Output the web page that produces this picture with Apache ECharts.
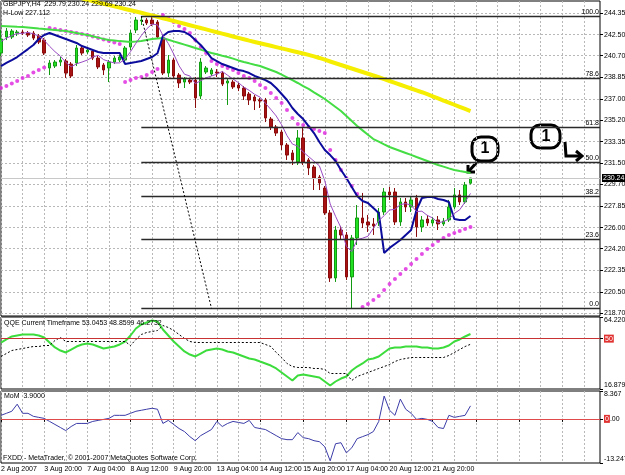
<!DOCTYPE html>
<html>
<head>
<meta charset="utf-8">
<script src="https://cdn.jsdelivr.net/npm/echarts@6/dist/echarts.min.js"></script>
<style>
  html, body { margin: 0; padding: 0; background: #fff; }
  #chart { width: 625px; height: 475px; }
</style>
</head>
<body>
<div id="chart"></div>
<script>
// GBPJPY H4, 2 Aug - 23 Aug 2007
const dayBars = [['2 Aug', 3, 6], ['3 Aug', 0, 6], ['6 Aug', 0, 6], ['7 Aug', 0, 6], ['8 Aug', 0, 6],
  ['9 Aug', 0, 6], ['10 Aug', 0, 6], ['13 Aug', 0, 6], ['14 Aug', 0, 6], ['15 Aug', 0, 6],
  ['16 Aug', 0, 6], ['17 Aug', 0, 6], ['20 Aug', 0, 6], ['21 Aug', 0, 6], ['22 Aug', 0, 6], ['23 Aug', 0, 1]];
const hours = ['00:00', '04:00', '08:00', '12:00', '16:00', '20:00'];
const tickLabels = ['2 Aug 2007', '3 Aug 20:00', '7 Aug 04:00', '8 Aug 12:00', '9 Aug 20:00', '13 Aug 04:00',
  '14 Aug 12:00', '15 Aug 20:00', '17 Aug 04:00', '20 Aug 12:00', '21 Aug 20:00'];
const priceTicks = [218.70, 220.50, 222.35, 224.20, 226.00, 227.85, 229.70, 231.50, 233.35, 235.20,
  237.00, 238.85, 240.70, 242.50, 244.35];
const qqeTicks = [16.879, 50, 64.2206];
const momTicks = [-13.247, 0, 8.367];

const opens = [240.92,242.29,242.29,242.63,242.72,242.63,242.63,242.38,242.03,239.64,
  239.81,240.15,240.24,239.98,240.07,241.35,241.01,241.09,240.49,239.90,
  239.64,240.15,240.32,240.32,241.44,242.89,243.66,243.74,243.74,243.57,
  242.20,239.21,240.32,239.04,238.44,238.61,238.61,237.25,239.30,239.13,
  239.30,239.21,238.36,238.44,238.19,237.93,237.42,237.16,236.91,236.91,
  235.28,234.60,234.17,233.06,232.38,231.61,233.66,231.78,231.18,230.32,
  229.38,227.25,221.69,225.79,225.37,221.78,225.11,226.82,226.48,226.31,
  226.48,227.33,229.04,229.04,226.48,228.19,227.76,228.53,226.05,226.73,
  226.39,226.65,226.31,226.65,227.76,228.79,228.19,229.79];
const closes = [242.12,242.80,242.80,242.72,242.63,242.46,242.20,241.86,240.92,240.07,
  240.15,240.32,239.21,238.96,241.35,240.92,241.18,240.49,239.73,239.47,
  240.15,240.49,240.58,241.35,242.63,243.74,243.74,243.49,243.40,242.29,
  239.21,240.32,238.96,238.36,238.70,238.44,237.08,240.15,239.64,239.47,
  239.21,238.27,238.53,238.02,237.93,237.25,236.91,236.82,236.82,235.37,
  234.60,234.08,233.06,232.20,231.78,233.66,231.61,231.09,230.24,229.81,
  227.25,221.69,225.79,225.37,221.78,225.11,226.82,226.39,226.22,226.14,
  227.33,229.04,228.79,226.48,228.19,227.76,228.36,226.05,226.65,226.39,
  226.65,226.31,226.56,227.76,228.79,228.19,229.64,230.24];
const lows = [240.67,242.03,242.12,242.38,242.46,242.29,242.03,241.69,240.75,239.04,
  239.64,239.81,238.79,238.79,239.81,240.75,240.84,240.32,239.55,239.04,
  238.44,239.98,240.15,240.15,241.18,242.63,243.32,243.32,243.23,242.12,
  239.04,238.87,238.79,237.93,237.93,238.27,236.22,236.99,239.13,238.96,
  238.87,238.10,236.48,237.85,237.67,236.91,236.48,236.05,236.22,235.02,
  234.34,233.83,232.63,231.78,231.35,231.35,231.35,230.49,229.21,229.21,
  227.08,221.35,221.35,224.94,221.52,219.10,224.51,225.96,225.62,225.37,
  226.14,227.08,228.36,226.22,226.14,227.33,227.33,225.20,225.62,226.14,
  226.14,225.79,226.14,226.48,227.59,227.93,228.02,229.69];
const highs = [242.89,243.06,242.97,242.89,242.89,242.80,242.80,242.55,242.20,240.32,
  240.32,240.58,240.41,240.15,241.61,241.52,241.35,241.26,240.67,240.07,
  240.32,240.67,240.75,241.52,242.89,244.00,244.08,243.91,244.00,243.74,
  242.46,240.75,240.49,239.21,238.87,238.79,238.87,240.49,239.81,239.64,
  239.55,239.38,238.79,238.61,238.36,238.10,237.59,237.33,237.08,237.08,
  235.45,234.77,234.34,233.23,232.63,234.34,234.51,231.95,231.35,230.49,
  229.55,227.50,226.14,226.14,225.62,225.37,227.93,228.96,227.08,226.82,
  227.67,229.38,229.47,229.38,228.53,228.53,228.61,228.79,226.99,227.08,
  226.91,226.99,226.82,228.36,229.38,229.21,229.90,230.24];

const maYellow = [247.2,247.1,247.0,246.9,246.8,246.7,246.6,246.5,246.4,246.3,
  246.2,246.1,246.0,245.85,245.72,245.6,245.48,245.36,245.24,245.13,
  245.02,244.91,244.80,244.69,244.58,244.47,244.36,244.25,244.14,244.02,
  243.90,243.78,243.66,243.54,243.42,243.30,243.18,243.06,242.94,242.82,
  242.70,242.58,242.46,242.34,242.22,242.10,241.98,241.87,241.76,241.65,
  241.54,241.43,241.32,241.21,241.10,240.99,240.88,240.76,240.63,240.50,
  240.35,240.20,240.05,239.90,239.75,239.60,239.45,239.30,239.15,239.00,
  238.85,238.69,238.53,238.37,238.21,238.05,237.89,237.73,237.57,237.40,
  237.22,237.04,236.86,236.68,236.50,236.32,236.14,235.96];
const maGreen = [243.23,243.21,243.19,243.16,243.14,243.10,243.06,243.01,242.97,242.93,
  242.89,242.84,242.80,242.72,242.63,242.55,242.46,242.35,242.24,242.13,
  242.03,241.99,241.94,241.90,241.86,241.90,241.95,242.03,242.12,242.16,
  242.20,242.06,241.92,241.78,241.64,241.50,241.35,241.21,241.06,240.92,
  240.81,240.69,240.58,240.44,240.29,240.15,240.04,239.92,239.81,239.64,
  239.47,239.30,239.07,238.84,238.61,238.36,238.10,237.85,237.56,237.28,
  236.99,236.65,236.31,235.97,235.54,235.11,234.68,234.31,233.94,233.57,
  233.34,233.11,232.89,232.72,232.55,232.38,232.21,232.03,231.86,231.69,
  231.52,231.35,231.21,231.06,230.92,230.83,230.75,230.66];
const maBlue = [239.81,240.07,240.32,240.58,240.92,241.26,241.61,242.12,242.46,242.63,
  242.46,242.29,242.12,241.95,241.78,241.52,241.35,241.18,241.01,240.92,
  240.92,240.92,240.92,239.98,240.07,240.15,240.24,240.41,240.58,240.90,
  242.38,242.72,242.80,242.80,242.72,242.46,242.03,241.61,241.09,240.49,
  240.24,239.98,239.81,239.64,239.47,239.38,239.21,238.96,238.79,238.61,
  238.36,237.93,237.42,236.91,236.22,235.71,235.28,234.68,234.08,233.32,
  232.63,232.20,231.69,230.92,230.24,229.47,228.70,228.27,228.10,227.67,
  227.25,223.83,224.26,224.60,224.94,225.37,225.79,227.50,228.53,228.61,
  228.61,228.44,228.36,228.19,226.73,226.65,226.65,226.99];
const maFast = [241.90,242.20,242.40,242.60,242.61,242.68,242.56,242.37,242.01,241.50,
  241.04,240.66,240.13,239.74,240.00,240.15,240.32,240.58,240.73,240.36,
  240.20,240.07,240.08,240.41,241.04,241.76,242.41,242.99,243.40,243.33,
  242.43,241.74,240.84,239.83,239.11,238.96,238.31,238.55,238.80,238.96,
  239.11,239.35,239.02,238.70,238.39,238.00,237.73,237.39,237.15,236.63,
  236.10,235.54,234.79,233.86,233.14,232.96,232.46,232.07,231.68,231.28,
  230.00,228.02,226.96,225.98,224.38,223.95,224.97,225.09,225.26,225.94,
  226.58,227.02,227.50,227.56,227.97,228.05,227.92,227.37,227.40,227.04,
  226.82,226.41,226.51,226.73,227.21,227.52,228.19,228.92];
const sar = [237.93,238.10,238.32,238.53,238.79,238.96,239.26,239.47,239.68,
  243.06,242.97,242.89,242.80,242.72,242.63,242.55,242.46,242.33,242.20,242.08,241.95,241.82,241.69,
  238.44,238.61,238.79,238.87,239.04,239.30,239.55,
  244.17,243.91,243.57,243.23,242.97,242.63,242.03,241.44,240.92,240.24,
  239.98,239.81,239.64,239.47,239.21,238.96,238.79,238.53,238.19,237.93,
  237.50,237.08,236.65,236.05,235.37,234.85,234.77,234.60,234.43,234.26,
  234.08,232.63,231.78,230.92,230.24,229.55,228.87,
  219.21,219.47,219.81,220.15,220.67,221.18,221.61,222.03,222.46,222.89,
  223.32,223.74,224.17,224.51,224.85,225.11,225.37,225.54,225.71,225.88,226.05];

const fibPrices = [219.10, 225.00, 228.64, 231.59, 234.54, 238.73, 244.08];
const fibLabels = ['0.0', '23.6', '38.2', '50.0', '61.8', '78.6', '100.0'];
const bidPrice = 230.24;

const qqeMain = [47.45,49.43,51.40,52.06,52.71,52.71,52.71,52.06,50.74,47.45,
  44.17,42.19,40.88,42.85,44.82,46.14,46.80,46.14,44.82,43.51,
  44.17,44.82,46.14,48.11,52.06,56.66,59.29,60.60,61.92,61.26,
  56.00,52.06,48.11,44.82,41.54,39.56,38.25,40.22,42.19,42.85,
  43.51,42.85,41.54,40.88,39.56,38.25,36.93,36.28,34.96,33.65,
  32.33,30.36,27.73,25.10,22.47,25.76,26.41,25.76,25.10,24.44,
  21.81,19.18,21.81,23.78,25.10,29.04,31.67,33.65,36.28,36.93,
  38.25,40.88,43.51,44.17,44.17,44.82,44.82,44.82,44.17,44.17,
  43.51,43.51,44.17,45.48,48.11,49.43,51.40,53.05];
const qqeSlow = [38.25,40.22,42.19,42.85,43.51,44.17,44.82,44.82,45.48,45.48,
  48.77,50.74,48.11,48.11,48.11,48.11,48.11,48.11,48.11,48.11,
  48.11,48.11,48.11,48.11,45.48,49.43,52.71,54.03,54.69,55.34,
  58.63,57.32,55.34,52.71,50.08,48.11,47.45,47.45,47.45,47.45,
  47.45,47.45,47.45,47.45,47.45,47.45,47.45,47.45,47.45,46.14,
  44.82,40.88,37.59,33.65,31.67,31.02,31.02,31.02,30.36,30.36,
  29.70,27.07,27.07,27.07,27.07,22.47,25.10,26.41,27.73,29.04,
  30.36,31.67,32.99,34.96,36.28,36.93,37.59,37.59,37.59,37.59,
  37.59,37.59,37.59,38.91,40.88,42.85,44.82,46.27];
const mom = [1.06,1.67,2.28,4.41,1.67,1.67,0.76,0.45,0.15,-0.77,
  -1.68,-2.59,-3.51,-2.29,-1.37,-1.37,-1.37,-0.77,-0.46,-0.16,
  0.15,1.06,1.06,1.06,1.67,2.28,2.58,2.89,3.19,2.89,
  -1.37,-0.46,-1.68,-2.90,-3.81,-5.33,-6.55,-5.03,-4.11,-3.20,
  -0.77,-2.29,-1.37,-0.77,-1.07,-1.37,-0.46,-2.59,-2.90,-3.20,
  -4.11,-5.03,-5.94,-6.24,-6.24,-4.11,-5.64,-5.94,-6.55,-6.85,
  -8.38,-12.60,-7.46,-7.16,-10.20,-8.68,-5.94,-5.33,-4.72,-3.81,
  -0.77,6.85,2.58,1.06,5.93,2.89,1.67,-0.16,0.15,-0.16,
  -0.77,-2.59,-2.90,1.06,0.45,0.76,1.06,3.90];

const categories = [];
dayBars.forEach(([d, from, to]) => {
  for (let h = from; h < to; h++) categories.push(d + ' ' + hours[h]);
});
for (let k = 1; k <= 24; k++) categories.push('next ' + k);

const candleData = opens.map((o, i) => [o, closes[i], lows[i], highs[i]]);

const FONT = 'Liberation Sans';
const gridLine = { color: '#b8b8b8', type: [2, 2], width: 1 };

function xAxisFor(gridIndex, withLabels) {
  return {
    type: 'category', gridIndex, data: categories, boundaryGap: false,
    axisLine: { show: false },
    axisTick: { show: withLabels, interval: 7, length: 3, lineStyle: { color: '#000' } },
    axisLabel: {
      show: withLabels, interval: 7, align: 'left', margin: 3,
      fontSize: 7, fontFamily: FONT, color: '#000',
      formatter: (v, i) => tickLabels[i / 8] || ''
    },
    splitLine: { show: true, interval: 3, lineStyle: gridLine }
  };
}

const lineBase = { type: 'line', showSymbol: false, symbol: 'none', silent: true, animation: false };
const redBox = { backgroundColor: '#e03030', color: '#fff', fontSize: 7, fontFamily: FONT, padding: [1, 1, 0, 1] };

const fibLines = fibPrices.map((p, i) => [
  { coord: [26, p], lineStyle: { color: '#2a2a2a', width: 1.3, type: 'solid' },
    label: { show: true, position: 'insideEndTop', formatter: fibLabels[i], distance: 1,
      fontSize: 7, fontFamily: FONT, color: '#000' } },
  { coord: [111, p] }
]);

const option = {
  animation: false,
  backgroundColor: '#fff',
  textStyle: { fontFamily: FONT, fontSize: 7 },
  title: [
    { text: 'GBPJPY,H4  229.79 230.24 229.69 230.24', left: 3, top: 1 },
    { text: 'H-Low 227.112', left: 3, top: 10 },
    { text: 'QQE Current Timeframe 53.0453 48.8599 46.2732', left: 4, top: 320 },
    { text: 'MoM  3.9000', left: 4, top: 393 },
    { text: 'FXDD - MetaTrader, \u00a9 2001-2007 MetaQuotes Software Corp.', left: 3, top: 455 }
  ].map(t => Object.assign(t, { padding: 0,
    textStyle: { fontSize: 7, fontWeight: 'normal', color: '#000', fontFamily: FONT } })),
  grid: [
    { left: 1, right: 25, top: 1, height: 315 },
    { left: 1, right: 25, top: 317, height: 72 },
    { left: 1, right: 25, top: 391, height: 72 }
  ].map(g => Object.assign(g, { show: true, borderColor: '#000', borderWidth: 1, outerBoundsMode: 'none' })),
  xAxis: [xAxisFor(0, false), xAxisFor(1, false), xAxisFor(2, true)],
  yAxis: [
    {
      type: 'value', gridIndex: 0, position: 'right', min: 218.44, max: 245.37,
      axisLine: { show: false },
      axisTick: { show: true, length: 3, customValues: priceTicks, lineStyle: { color: '#000' } },
      axisLabel: { customValues: priceTicks, formatter: v => v.toFixed(2), margin: 4,
        fontSize: 7, fontFamily: FONT, color: '#000' },
      splitLine: { show: true, lineStyle: gridLine }
    },
    {
      type: 'value', gridIndex: 1, position: 'right', min: 16.879, max: 64.2206,
      axisLine: { show: false },
      axisTick: { show: true, length: 3, customValues: qqeTicks, lineStyle: { color: '#000' } },
      axisLabel: { customValues: qqeTicks, margin: 4, fontSize: 7, fontFamily: FONT, color: '#000',
        verticalAlignMinLabel: 'bottom', verticalAlignMaxLabel: 'top',
        formatter: v => v === 50 ? '{r|50}' : String(v), rich: { r: redBox } },
      splitLine: { show: false }
    },
    {
      type: 'value', gridIndex: 2, position: 'right', min: -13.247, max: 8.367,
      axisLine: { show: false },
      axisTick: { show: true, length: 3, customValues: momTicks, lineStyle: { color: '#000' } },
      axisLabel: { customValues: momTicks, margin: 4, fontSize: 7, fontFamily: FONT, color: '#000',
        verticalAlignMinLabel: 'bottom', verticalAlignMaxLabel: 'top',
        formatter: v => v === 0 ? '{r|0}.00' : String(v), rich: { r: redBox } },
      splitLine: { show: false }
    }
  ],
  series: [
    {
      type: 'candlestick', xAxisIndex: 0, yAxisIndex: 0, data: candleData, barWidth: 3,
      silent: true,
      itemStyle: { color: '#22e022', color0: '#a81212', borderColor: '#129a12', borderColor0: '#8a0c0c', borderWidth: 1 },
      markLine: {
        silent: true, symbol: ['none', 'none'], animation: false,
        data: [
          ...fibLines,
          [{ coord: [26, fibPrices[6]], lineStyle: { color: '#000', width: 1, type: [2, 2] }, label: { show: false } },
           { coord: [39, fibPrices[0]] }],
          { yAxis: bidPrice, lineStyle: { color: '#c8c8c8', width: 1, type: 'solid' },
            label: { show: true, position: 'end', formatter: bidPrice.toFixed(2), distance: 2,
              backgroundColor: '#000', color: '#fff', fontSize: 7, fontFamily: FONT, padding: [1, 1, 0, 1] } }
        ]
      }
    },
    Object.assign({}, lineBase, { data: maYellow, xAxisIndex: 0, yAxisIndex: 0, lineStyle: { color: '#f6ee00', width: 4 } }),
    Object.assign({}, lineBase, { data: maGreen, xAxisIndex: 0, yAxisIndex: 0, lineStyle: { color: '#44dd44', width: 2 } }),
    Object.assign({}, lineBase, { data: maBlue, xAxisIndex: 0, yAxisIndex: 0, lineStyle: { color: '#0c0c9c', width: 2 } }),
    Object.assign({}, lineBase, { data: maFast, xAxisIndex: 0, yAxisIndex: 0, lineStyle: { color: '#9a4cc4', width: 1 } }),
    {
      type: 'scatter', xAxisIndex: 0, yAxisIndex: 0, data: sar, symbol: 'circle', symbolSize: 4,
      silent: true, itemStyle: { color: '#dd22dd' }
    },
    Object.assign({}, lineBase, {
      data: qqeMain, xAxisIndex: 1, yAxisIndex: 1, lineStyle: { color: '#3ddc3d', width: 2 },
      markLine: { silent: true, symbol: ['none', 'none'], label: { show: false },
        lineStyle: { color: '#c83232', width: 1, type: 'solid' }, data: [{ yAxis: 50 }] }
    }),
    Object.assign({}, lineBase, { data: qqeSlow, xAxisIndex: 1, yAxisIndex: 1, lineStyle: { color: '#000', width: 1, type: [2, 2] } }),
    Object.assign({}, lineBase, {
      data: mom, xAxisIndex: 2, yAxisIndex: 2, lineStyle: { color: '#3c3ca8', width: 1 },
      markLine: { silent: true, symbol: ['none', 'none'], label: { show: false },
        lineStyle: { color: '#e04a4a', width: 1, type: 'solid' }, data: [{ yAxis: 0 }] }
    })
  ],
  graphic: [
    { type: 'rect', shape: { x: 472, y: 137, width: 26, height: 24, r: 9 }, style: { fill: 'none', stroke: '#000', lineWidth: 3 } },
    { type: 'text', x: 485, y: 149, style: { text: '1', fill: '#000', font: 'bold 16px "Liberation Sans"', align: 'center', verticalAlign: 'middle' } },
    { type: 'polyline', shape: { points: [[478, 161], [468, 172]] }, style: { stroke: '#000', lineWidth: 3, fill: 'none' } },
    { type: 'polyline', shape: { points: [[468, 165], [468, 172], [475, 172]] }, style: { stroke: '#000', lineWidth: 3, fill: 'none' } },
    { type: 'rect', shape: { x: 531, y: 125, width: 29, height: 23, r: 9 }, style: { fill: 'none', stroke: '#000', lineWidth: 3 } },
    { type: 'text', x: 546, y: 137, style: { text: '1', fill: '#000', font: 'bold 16px "Liberation Sans"', align: 'center', verticalAlign: 'middle' } },
    { type: 'polyline', shape: { points: [[565, 142], [566, 156], [580, 156]] }, style: { stroke: '#000', lineWidth: 3, fill: 'none' } },
    { type: 'polyline', shape: { points: [[576, 151], [582, 156], [576, 161]] }, style: { stroke: '#000', lineWidth: 3, fill: 'none' } }
  ]
};

const chart = echarts.init(document.getElementById('chart'), null, { renderer: 'canvas' });
chart.setOption(option);
</script>
</body>
</html>
